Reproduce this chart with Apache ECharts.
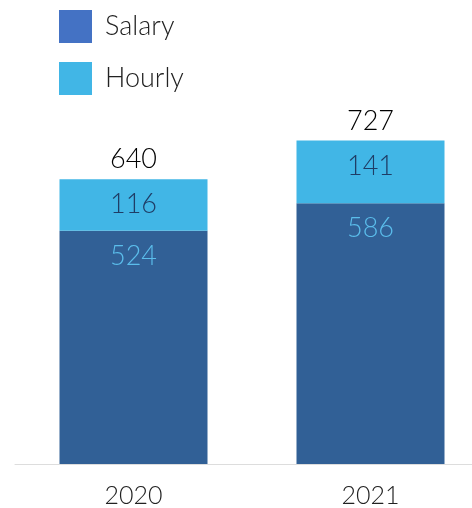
<!DOCTYPE html>
<html><head><meta charset="utf-8">
<script src="https://cdn.jsdelivr.net/npm/echarts@6/dist/echarts.min.js"></script>
<style>html,body{margin:0;padding:0;background:#fff;overflow:hidden;width:472px;height:508px}#c{width:490px;height:508px}</style>
</head><body><div id="c"></div>
<script>
const categories = ['2020', '2021'];
const salary = [524, 586];
const hourly = [116, 141];
const totals = categories.map((c, i) => salary[i] + hourly[i]);

const chart = echarts.init(document.getElementById('c'), null, {renderer: 'canvas'});
const font = 'Lato, "Open Sans", sans-serif';
chart.setOption({
  animation: false,
  textStyle: {fontFamily: font},
  legend: {
    orient: 'vertical', left: 54, top: 5, itemWidth: 33, itemHeight: 33, itemGap: 19,
    icon: 'rect',
    textStyle: {fontSize: 27, color: '#222', fontFamily: font, fontWeight: 300, padding: [0, 0, 0, 8]},
    data: [
      {name: 'Salary', itemStyle: {color: '#4472C4'}},
      {name: 'Hourly', itemStyle: {color: '#41B6E6'}}
    ]
  },
  grid: {left: 15, right: 1, top: 108, bottom: 44, containLabel: false},
  xAxis: {
    type: 'category', data: categories,
    axisLine: {lineStyle: {color: '#dddddd', width: 1}},
    axisTick: {show: false},
    axisLabel: {fontSize: 25, color: '#222', margin: 19, fontFamily: font, fontWeight: 300}
  },
  yAxis: {type: 'value', min: 0, max: 800, show: false, splitLine: {show: false}},
  series: [
    {name: 'Salary', type: 'bar', stack: 's', data: salary, barWidth: 148,
     itemStyle: {color: '#316096'},
     label: {show: true, position: 'insideTop', distance: 12, fontSize: 27, color: '#5BBDEB', fontFamily: font, fontWeight: 300}},
    {name: 'Hourly', type: 'bar', stack: 's', data: hourly, barWidth: 148,
     itemStyle: {color: '#41B6E6'},
     label: {show: true, position: 'insideTop', distance: 12, fontSize: 27, color: '#1F3D66', fontFamily: font, fontWeight: 300}},
    {name: 'Total', type: 'bar', data: totals, barWidth: 148, barGap: '-100%', z: 0,
     itemStyle: {color: 'rgba(0,0,0,0)'},
     label: {show: true, position: 'top', distance: 6, fontSize: 27, color: '#000', fontFamily: font, fontWeight: 300}}
  ]
});
</script></body></html>
